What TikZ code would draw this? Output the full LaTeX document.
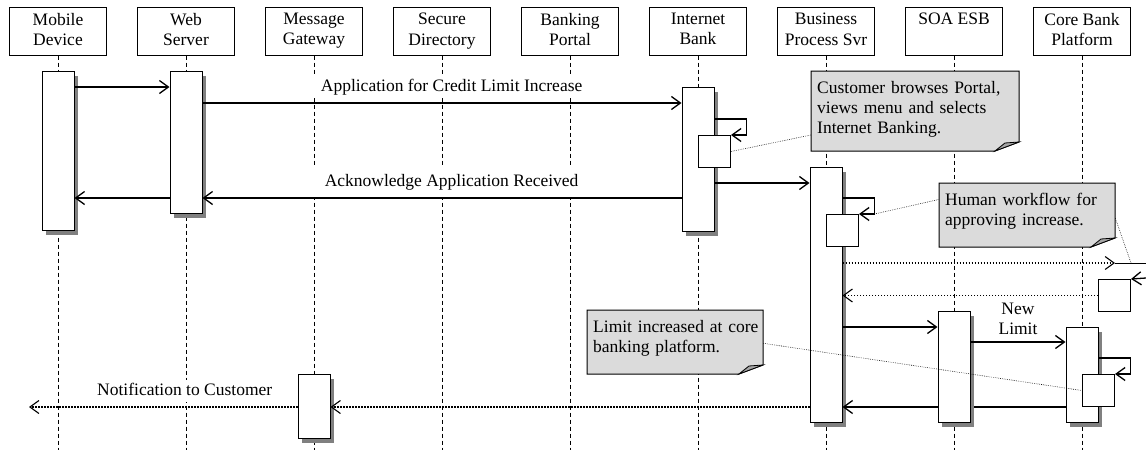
\documentclass[tikz,border=0pt]{standalone}
\usepackage{fontspec}
\setmainfont{Liberation Serif}
\usetikzlibrary{arrows.meta,shadows}
\tikzset
{
    head/.style     = {draw, fill=white, line width=1pt, minimum width=97pt, minimum height=48pt, align=center, inner sep=0pt,
                       execute at end node=\vphantom{y}},
    act/.style      = {draw, fill=white, line width=1pt, minimum width=32pt, inner sep=0pt, anchor=north,
                       drop shadow={shadow xshift=4pt, shadow yshift=-4pt, fill=gray, opacity=1}},
    sub/.style      = {draw, fill=white, line width=1pt, minimum width=32pt, minimum height=32pt, inner sep=0pt, anchor=north west},
    life/.style     = {line width=0.9pt, dash pattern=on 4pt off 3pt},
    call/.style     = {line width=1.3pt, -{Straight Barb[length=9pt,width=13pt]}},
    reply/.style    = {call, line width=1.1pt, dash pattern=on 1.2pt off 1.8pt},
    msglabel/.style = {anchor=south, fill=white, inner xsep=24pt, inner ysep=3pt, text depth=4pt, align=center, yshift=4pt},
    ann/.style      = {line width=0.6pt, dash pattern=on 0.6pt off 1.2pt},
    notebody/.style = {line width=1pt, fill=black!14},
    notefold/.style = {line width=0.8pt, fill=black!35},
    notetext/.style = {anchor=north west, align=left, inner xsep=6pt, inner ysep=10pt}
}
% note outline: x1, y1, x2, y2
\newcommand{\umlnote}[4]{%
    \filldraw [notebody] (#1,#2) -- (#3,#2) -- (#3,#4-9) -- (#3-24,#4) -- (#1,#4) -- cycle;
    \filldraw [notefold] (#3-24,#4) -- (#3-14,#4-8) -- (#3,#4-9) -- cycle;
}

\begin{document}
\begin{tikzpicture}[x=1pt, y=-1pt, every node/.style={font=\fontsize{17.5pt}{20.3pt}\selectfont}]
    \useasboundingbox (0,0) rectangle (1146,450);
    \coordinate (bot)  at (0,450);
    \coordinate (out)  at (29,407);
    \coordinate (xA)   at (1115,263);
    \coordinate (xTop) at (1131,263);
    \coordinate (xB)   at (1146,263);
    \coordinate (xR)   at (1146,278);

    % participants
    \node [head] (mob)    at (58,31)   {Mobile\\Device};
    \node [head] (web)    at (186,31)  {Web\\Server};
    \node [head] (gw)     at (314,31)  {Message\\Gateway};
    \node [head] (dir)    at (442,31)  {Secure\\Directory};
    \node [head] (portal) at (570,31)  {Banking\\Portal};
    \node [head] (ib)     at (698,31)  {Internet\\Bank};
    \node [head] (bps)    at (826,31)  {Business\\Process Svr};
    \node [head] (esb)    at (954,31)  {SOA ESB\\\phantom{S}};
    \node [head] (core)   at (1082,31) {Core Bank\\Platform};
    \foreach \p in {mob,web,gw,dir,portal,ib,bps,esb,core}
        \draw [life] (\p.south) -- (\p.south |- bot);

    % activations
    \node [act, minimum height=159pt] (mobA)  at (58,71)   {};
    \node [act, minimum height=142pt] (webA)  at (186,71)  {};
    \node [act, minimum height=144pt] (ibA)   at (698,87)  {};
    \node [sub]                       (ibN)   at (698,135) {};
    \node [act, minimum height=255pt] (bpsA)  at (826,167) {};
    \node [sub]                       (bpsN)  at (826,214) {};
    \node [act, minimum height=95pt]  (coreA) at (1082,327) {};
    \node [sub]                       (coreN) at (1082,374) {};
    \node [act, minimum height=64pt]  (gwA)   at (314,374) {};
    \node [sub]                       (xN)    at (1098,279) {};
    \draw [call] (coreA.west |- 0,407) -- (bpsA.east |- 0,407);
    \node [act, minimum height=111pt] (esbA)  at (954,311) {};

    % messages
    \draw [call] (mobA.east |- 0,87) -- (webA.west |- 0,87);
    \draw [call] (webA.east |- 0,103) -- node [msglabel, pos=0.52] (lblApp) {Application for Credit Limit Increase} (ibA.west |- 0,103);
    \draw [call] (ibA.east |- 0,119) -- ++(32,0) -- ++(0,16) -- (ibN.north east);
    \draw [call] (ibA.east |- 0,183) -- (bpsA.west |- 0,183);
    \draw [call] (ibA.west |- 0,198) -- node [msglabel, yshift=-4pt, inner ysep=7pt, pos=0.48] (lblAck) {Acknowledge Application Received} (webA.east |- 0,198);
    \draw [call] (webA.west |- 0,198) -- (mobA.east |- 0,198);
    \draw [call] (bpsA.east |- 0,198) -- ++(32,0) -- ++(0,16) coordinate (bpsLoop) -- (bpsN.north east);
    \draw [reply] (bpsA.east |- 0,263) -- (xA);
    \draw [line width=1pt] (xA) -- (xB);
    \draw [call] (xR) -- (xN.north east);
    \draw [reply] (xN.west) -- (bpsA.east |- xN.west);
    \draw [call] (bpsA.east |- 0,327) -- (esbA.west |- 0,327);
    \draw [call] (esbA.east |- 0,342) -- node [msglabel, fill=none, inner xsep=2pt, yshift=-4pt] (lblLimit) {New\\Limit} (coreA.west |- 0,342);
    \draw [call] (coreA.east |- 0,358) -- ++(32,0) -- ++(0,16) -- (coreN.north east);
    \draw [reply] (bpsA.west |- 0,407) -- (gwA.east |- 0,407);
    \draw [reply] (gwA.west |- 0,407) -- node [msglabel, inner xsep=10pt, pos=0.42] (lblNotify) {Notification to Customer} (out);

    % notes
    \umlnote{811}{71}{1019}{151}
    \node [notetext, text width=196pt] (noteA) at (811,71) {Customer browses Portal,\\views menu and selects\\Internet Banking.};
    \umlnote{939}{183}{1115}{247}
    \node [notetext, text width=164pt] (noteB) at (939,183) {Human workflow for\\approving increase.};
    \umlnote{587}{310}{763}{374}
    \node [notetext, text width=164pt] (noteC) at (587,310) {\mbox{Limit increased at core}\\banking platform.};
    \draw [ann] (ibN.east) -- (noteA.west |- ibN.north);
    \draw [ann] (bpsLoop) -- ([yshift=12pt]noteB.west);
    \draw [ann] ([yshift=-7pt]noteB.east) -- (xTop);
    \draw [ann] ([yshift=-5pt]noteC.east) -- (coreN.west);
\end{tikzpicture}
\end{document}
